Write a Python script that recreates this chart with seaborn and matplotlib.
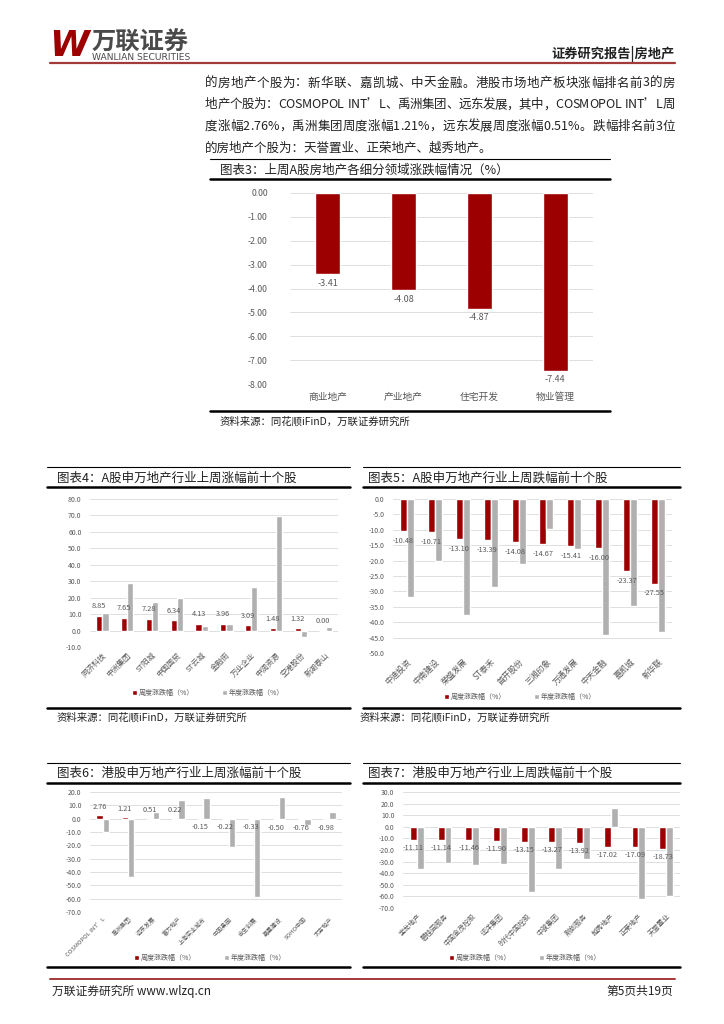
import matplotlib
matplotlib.use("Agg")
import matplotlib.pyplot as plt
import seaborn as sns
import pandas as pd
from matplotlib.lines import Line2D

# ---- data ----
sectors = ["商业地产", "产业地产", "住宅开发", "物业管理"]
sector_chg = [-3.41, -4.08, -4.87, -7.44]
sector_ticks = [0, -1, -2, -3, -4, -5, -6, -7, -8]

a_up_names = ["同济科技", "中洲集团", "ST阳城", "中国国贸", "ST云城",
              "金融街", "万业企业", "中润资源", "空港股份", "新湖泰山"]
a_up_week = [8.85, 7.65, 7.28, 6.34, 4.13, 3.96, 3.09, 1.48, 1.32, 0.00]
a_up_year = [10.8, 28.7, 17.2, 20.0, 3.0, 3.7, 26.5, 69.8, -3.8, 2.0]
a_up_ticks = [80, 70, 60, 50, 40, 30, 20, 10, 0, -10]

a_dn_names = ["中迪投资", "中南建设", "荣盛发展", "ST泰禾", "首开股份",
              "三湘印象", "万通发展", "中天金融", "嘉凯城", "新华联"]
a_dn_week = [-10.48, -10.71, -13.10, -13.39, -14.08, -14.67, -15.41, -16.00, -23.37, -27.55]
a_dn_year = [-31.8, -20.0, -37.7, -28.7, -21.2, -9.8, -16.2, -44.2, -34.7, -43.3]
a_dn_ticks = [0, -5, -10, -15, -20, -25, -30, -35, -40, -45, -50]

h_up_names = ["COSMOPOL INT’L", "禹洲集团", "远东发展", "富力地产", "上海实业城市",
              "中国奥园", "合生创展", "嘉里建设", "SOHO中国", "太古地产"]
h_up_week = [2.76, 1.21, 0.51, 0.22, -0.15, -0.22, -0.33, -0.50, -0.76, -0.98]
h_up_year = [-10.0, -43.5, 5.0, 14.0, 15.2, -21.5, -58.5, 16.0, -4.5, 5.2]
h_up_ticks = [20, 10, 0, -10, -20, -30, -40, -50, -60, -70]

h_dn_names = ["宝龙地产", "碧桂园服务", "中国金茂控股", "远洋集团", "时代中国控股",
              "中骏集团", "融创服务", "越秀地产", "正荣地产", "天誉置业"]
h_dn_week = [-11.11, -11.14, -11.46, -11.90, -13.15, -13.27, -13.92, -17.02, -17.09, -18.73]
h_dn_year = [-36.0, -31.5, -32.5, -32.0, -56.0, -36.5, -27.5, 16.5, -62.0, -59.5]
h_dn_ticks = [30, 20, 10, 0, -10, -20, -30, -40, -50, -60, -70]

S1 = "周度涨跌幅（%）"
S2 = "年度涨跌幅（%）"

para = [
    "的房地产个股为：新华联、嘉凯城、中天金融。港股市场地产板块涨幅排名前3的房",
    "地产个股为：COSMOPOL INT’L、禹洲集团、远东发展，其中，COSMOPOL INT’L周",
    "度涨幅2.76%，禹洲集团周度涨幅1.21%，远东发展周度涨幅0.51%。跌幅排名前3位",
    "的房地产个股为：天誉置业、正荣地产、越秀地产。",
]

# ---- style ----
sns.set_theme(style="white")
plt.rcParams["font.family"] = ["Noto Sans CJK SC", "DejaVu Sans"]
plt.rcParams["axes.unicode_minus"] = False

RED = "#9C0000"
GRAY = "#B0B0B0"
TXT = "#595959"
GRID = "#D9D9D9"

W, H = 724, 1024
fig = plt.figure(figsize=(7.24, 10.24), dpi=100)
fig.patch.set_facecolor("white")
renderer = fig.canvas.get_renderer()


def rect(x0, y0, x1, y1):
    return [x0 / W, 1 - y1 / H, (x1 - x0) / W, (y1 - y0) / H]


def hline(y, x0, x1, lw=1.0, color="black"):
    fig.add_artist(Line2D([x0 / W, x1 / W], [1 - y / H, 1 - y / H],
                          lw=lw, color=color, transform=fig.transFigure))


def txt(x, y, s, **kw):
    kw.setdefault("va", "center")
    return fig.text(x / W, 1 - y / H, s, **kw)


def justified(x0, x1, y, s, **kw):
    # place characters one by one so the line fills x0..x1
    items = [txt(x0, y, c, **kw) for c in s]
    widths = [t.get_window_extent(renderer).width if c != " " else
              0.35 * kw.get("fontsize", 9) * 1.389 for t, c in zip(items, s)]
    gap = (x1 - x0 - sum(widths)) / (len(s) - 1)
    x = x0
    for t, w in zip(items, widths):
        t.set_x(x / W)
        x += w + gap


def clean(ax):
    for s in ax.spines.values():
        s.set_visible(False)
    ax.yaxis.grid(True, color=GRID, lw=0.6)
    ax.xaxis.grid(False)
    ax.set_axisbelow(True)
    ax.tick_params(length=0)
    ax.set_xlabel("")
    ax.set_ylabel("")


def grouped(box, names, week, year, ticks, pad, leg_xy, xfs=5, ypad=6):
    ax = fig.add_axes(rect(*box))
    df = pd.DataFrame({"name": names + names,
                       "val": week + year,
                       "kind": [S1] * len(names) + [S2] * len(names)})
    sns.barplot(data=df, x="name", y="val", hue="kind", palette=[RED, GRAY],
                width=0.5, saturation=1, errorbar=None, ax=ax)
    ax.set_ylim(min(ticks), max(ticks))
    ax.set_yticks(ticks)
    ax.set_yticklabels([f"{t:.1f}" for t in ticks], fontsize=5, color=TXT)
    ax.set_xticks(range(len(names)))
    ax.set_xticklabels(names, rotation=45, ha="right", rotation_mode="anchor",
                       fontsize=xfs, color=TXT)
    ax.tick_params(axis="y", pad=ypad)
    ax.tick_params(axis="x", pad=3)
    clean(ax)
    ax.bar_label(ax.containers[0], labels=[f"{v:.2f}" for v in week],
                 padding=pad, fontsize=5.3, color=TXT)
    ax.legend(loc="center", bbox_to_anchor=(leg_xy[0] / W, 1 - leg_xy[1] / H),
              bbox_transform=fig.transFigure, ncol=2, frameon=False,
              fontsize=5, handlelength=0.7, handleheight=0.7,
              handletextpad=0.3, columnspacing=4, labelcolor=TXT)
    return ax


# ---- header ----
txt(49, 46, "W", fontsize=26, fontweight="bold", style="italic",
    color=RED, family="DejaVu Sans")
txt(92, 43, "万联证券", fontsize=17.5, fontweight="bold", color="#4A4A4A")
txt(92, 58, "WANLIAN SECURITIES", fontsize=6.6, color="#4A4A4A", family="DejaVu Sans")
txt(675, 54, "证券研究报告|房地产", fontsize=9.5, fontweight="bold",
    ha="right", color="#222222")
hline(63, 50, 675, lw=1.6, color="#A33A3A")

for i, line in enumerate(para):
    y = 83 + i * 21.7
    if i < len(para) - 1:
        justified(205, 675, y, line, fontsize=9, color="#222222")
    else:
        txt(205, y, line, fontsize=9, color="#222222")

# ---- chart 3 ----
hline(159, 210, 610, lw=0.8)
txt(220, 170, "图表3：上周A股房地产各细分领域涨跌幅情况（%）", fontsize=9, color="#222222")
hline(179, 210, 610, lw=1.8)
ax3 = fig.add_axes(rect(290, 193, 593, 384))
sns.barplot(x=sectors, y=sector_chg, color=RED, width=0.33, saturation=1,
            errorbar=None, ax=ax3)
ax3.set_ylim(-8, 0)
ax3.set_yticks(sector_ticks)
ax3.set_yticklabels([f"{t:.2f}" for t in sector_ticks], fontsize=6.3, color=TXT)
ax3.tick_params(axis="y", pad=16)
ax3.tick_params(axis="x", pad=6, labelsize=7, labelcolor=TXT)
clean(ax3)
ax3.bar_label(ax3.containers[0], labels=[f"{v:.2f}" for v in sector_chg],
              padding=3, fontsize=6.5, color=TXT)
hline(411, 210, 610, lw=1.8)
txt(220, 421, "资料来源：同花顺iFinD，万联证券研究所", fontsize=7.5, color="#222222")

# ---- chart 4 / 5 ----
for x0, x1 in [(47, 350), (363, 680)]:
    hline(467, x0, x1, lw=0.8)
    hline(487, x0, x1, lw=1.8)
    hline(708, x0, x1, lw=1.8)
txt(57, 478, "图表4：A股申万地产行业上周涨幅前十个股", fontsize=9, color="#222222")
txt(368, 478, "图表5：A股申万地产行业上周跌幅前十个股", fontsize=9, color="#222222")
grouped((90, 499, 338, 647), a_up_names, a_up_week, a_up_year, a_up_ticks, 4, (208, 693), xfs=5.5)
grouped((393, 499, 672, 653), a_dn_names, a_dn_week, a_dn_year, a_dn_ticks, 4, (520, 697), xfs=5.9)
txt(57, 717, "资料来源：同花顺iFinD，万联证券研究所", fontsize=7.5, color="#222222")
txt(360, 717, "资料来源：同花顺iFinD，万联证券研究所", fontsize=7.5, color="#222222")

# ---- chart 6 / 7 ----
for x0, x1 in [(47, 350), (363, 680)]:
    hline(763, x0, x1, lw=0.8)
    hline(783, x0, x1, lw=1.8)
    hline(967, x0, x1, lw=1.8)
txt(57, 773, "图表6：港股申万地产行业上周涨幅前十个股", fontsize=9, color="#222222")
txt(368, 773, "图表7：港股申万地产行业上周跌幅前十个股", fontsize=9, color="#222222")
grouped((90, 792, 342, 912), h_up_names, h_up_week, h_up_year, h_up_ticks, 3, (210, 958), xfs=4.3)
grouped((403, 792, 680, 908), h_dn_names, h_dn_week, h_dn_year, h_dn_ticks, 3, (525, 958), xfs=5)

# ---- footer ----
hline(979, 50, 675, lw=1.4, color="#A33A3A")
txt(52, 991, "万联证券研究所 www.wlzq.cn", fontsize=8.5, color="#222222")
txt(673, 991, "第5页共19页", fontsize=8.5, ha="right", color="#222222")

fig.savefig("out.png", dpi=100, facecolor="white")
